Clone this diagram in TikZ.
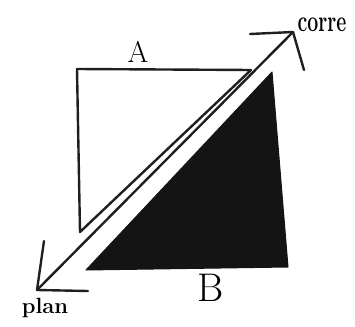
\documentclass[tikz,border=0pt]{standalone}
\usepackage{fontspec}
\usepackage{graphicx}
\begin{document}
\begin{tikzpicture}[x=1pt,y=-1pt,
  ink/.style={line width=2.4pt,line cap=round,line join=round,draw=black!88},
  lbl/.style={inner sep=0pt}]
\useasboundingbox (0,0) rectangle (355,326);
% triangle A
\coordinate (a1) at (77,69);
\coordinate (a2) at (251,70);
\coordinate (a3) at (80,232);
\draw[ink] (a3) -- (a1) -- (a2) -- cycle;
% triangle B (filled)
\coordinate (b1) at (272,72);
\coordinate (b2) at (86,270);
\coordinate (b3) at (288,267);
\fill[black!92,line join=round,draw=black!92,line width=1pt] (b1) -- (b2) -- (b3) -- cycle;
% diagonal double arrow
\coordinate (p) at (37,290);
\coordinate (c) at (293,32);
\coordinate (p1) at (44,241);
\coordinate (p2) at (88,291);
\coordinate (c1) at (250,34);
\coordinate (c2) at (304,70);
\draw[ink] (p) -- (c);
\draw[ink] (p1) -- (p) -- (p2);
\draw[ink] (c1) -- (c) -- (c2);
% labels
\node[lbl,font=\fontsize{30}{30}\selectfont] (la) at (138,52) {A};
\node[lbl,font=\fontsize{40}{40}\selectfont] (lb) at (211,288) {B};
\node[lbl,font=\fontsize{30}{30}\selectfont\bfseries] (lc) at (322,25) {\scalebox{0.65}[1]{corre}};
\node[lbl,font=\fontsize{22}{22}\selectfont\bfseries] (lp) at (45,308) {plan};
\end{tikzpicture}
\end{document}
